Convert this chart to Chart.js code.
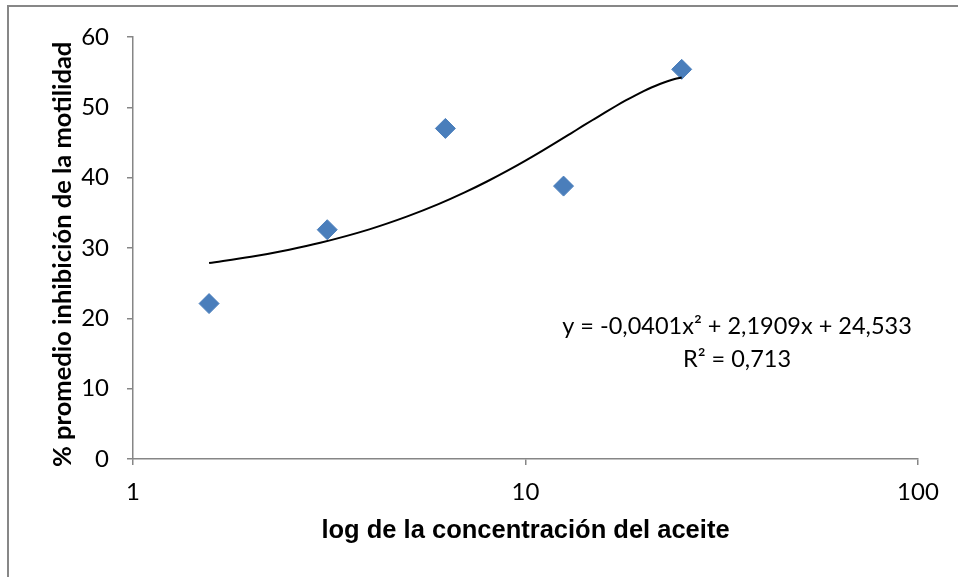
<!DOCTYPE html>
<html><head><meta charset="utf-8">
<script src="https://cdn.jsdelivr.net/npm/chart.js@4.4.0/dist/chart.umd.min.js"></script>
<style>
html,body{margin:0;padding:0;background:#fff;overflow:hidden;width:958px;height:577px;}
#frame{position:absolute;left:7px;top:5px;width:2000px;height:2000px;border:2px solid #878787;box-sizing:border-box;}
#c{position:absolute;left:0;top:0;}
</style></head><body>
<div id="frame"></div>
<canvas id="c" width="958" height="577"></canvas>
<script>
// Data
const concentrations = [1.5625, 3.125, 6.25, 12.5, 25];
const inhibition = [22.1, 32.6, 47.0, 38.8, 55.4];

// Polynomial trendline samples (as drawn in the reference)
const trendX = [1.5625, 2, 2.5, 3, 4, 5, 6, 7, 8, 9, 10, 11, 12, 13, 14, 15, 16, 17, 18, 19, 20, 21, 22, 23, 24, 25];
const trendY = [27.86, 28.75, 29.76, 30.74, 32.65, 34.49, 36.23, 37.90, 39.49, 41.00, 42.43, 43.78, 45.05, 46.24, 47.35, 48.37, 49.32, 50.19, 50.98, 51.68, 52.31, 52.86, 53.32, 53.71, 54.02, 54.24];

const xTickValues = [1, 10, 100];
const yTickValues = [0, 10, 20, 30, 40, 50, 60];

const xTitle = 'log de la concentración del aceite';
const yTitle = '% promedio inhibición de la motilidad';
const equationLines = ['y = -0,0401x² + 2,1909x + 24,533', 'R² = 0,713'];

const axisGray = '#868686';
const markerBlue = '#4A7EBB';

const equationPlugin = {
  id: 'equation',
  afterDatasetsDraw(chart) {
    const ctx = chart.ctx;
    const a = chart.chartArea;
    ctx.save();
    ctx.fillStyle = '#000';
    ctx.font = '23.5px Lato';
    ctx.textAlign = 'center';
    ctx.textBaseline = 'middle';
    const cx = a.left + 604;
    ctx.fillText(equationLines[0], cx, a.top + 289);
    ctx.fillText(equationLines[1], cx, a.top + 322);
    ctx.restore();
  }
};

new Chart(document.getElementById('c'), {
  type: 'scatter',
  data: {
    datasets: [
      {
        label: 'Tendencia',
        data: trendX.map((x, i) => ({x, y: trendY[i]})),
        showLine: true,
        borderColor: '#000',
        borderWidth: 2,
        pointRadius: 0,
        cubicInterpolationMode: 'monotone',
        fill: false
      },
      {
        label: 'Inhibición',
        data: concentrations.map((x, i) => ({x, y: inhibition[i]})),
        pointStyle: 'rectRot',
        pointRadius: 10,
        pointHoverRadius: 10,
        backgroundColor: markerBlue,
        borderColor: markerBlue,
        borderWidth: 1
      }
    ]
  },
  options: {
    responsive: false,
    animation: false,
    devicePixelRatio: 1,
    layout: { padding: { left: 0, top: 37, right: 40, bottom: 0 } },
    plugins: { legend: { display: false }, tooltip: { enabled: false } },
    scales: {
      x: {
        type: 'logarithmic',
        min: 1,
        max: 100,
        afterBuildTicks: s => { s.ticks = xTickValues.map(v => ({ value: v })); },
        afterFit: s => { s.height = 118; },
        ticks: {
          autoSkip: false, maxRotation: 0, padding: 13,
          color: '#000', font: { family: 'Lato', size: 24 },
          callback: v => String(v)
        },
        grid: { display: true, drawOnChartArea: false, drawTicks: true, tickLength: 6, color: axisGray, lineWidth: 1.5 },
        border: { display: true, color: axisGray, width: 1.5 },
        title: {
          display: true, text: xTitle, color: '#000',
          font: { family: 'Liberation Sans', size: 25.5, weight: 'bold' },
          padding: { top: 0, bottom: 31 }
        }
      },
      y: {
        min: 0,
        max: 60,
        afterBuildTicks: s => { s.ticks = yTickValues.map(v => ({ value: v })); },
        afterFit: s => { s.width = 133; },
        ticks: { padding: 18, color: '#000', font: { family: 'Lato', size: 24 } },
        grid: { display: true, drawOnChartArea: false, drawTicks: true, tickLength: 6, color: axisGray, lineWidth: 1.5 },
        border: { display: true, color: axisGray, width: 1.5 },
        title: {
          display: true, text: yTitle + '\u2002', color: '#000',
          font: { family: 'Lato', size: 25.5, weight: 'bold' },
          padding: { top: 47, bottom: 0 }
        }
      }
    }
  },
  plugins: [equationPlugin]
});
</script>
</body></html>
